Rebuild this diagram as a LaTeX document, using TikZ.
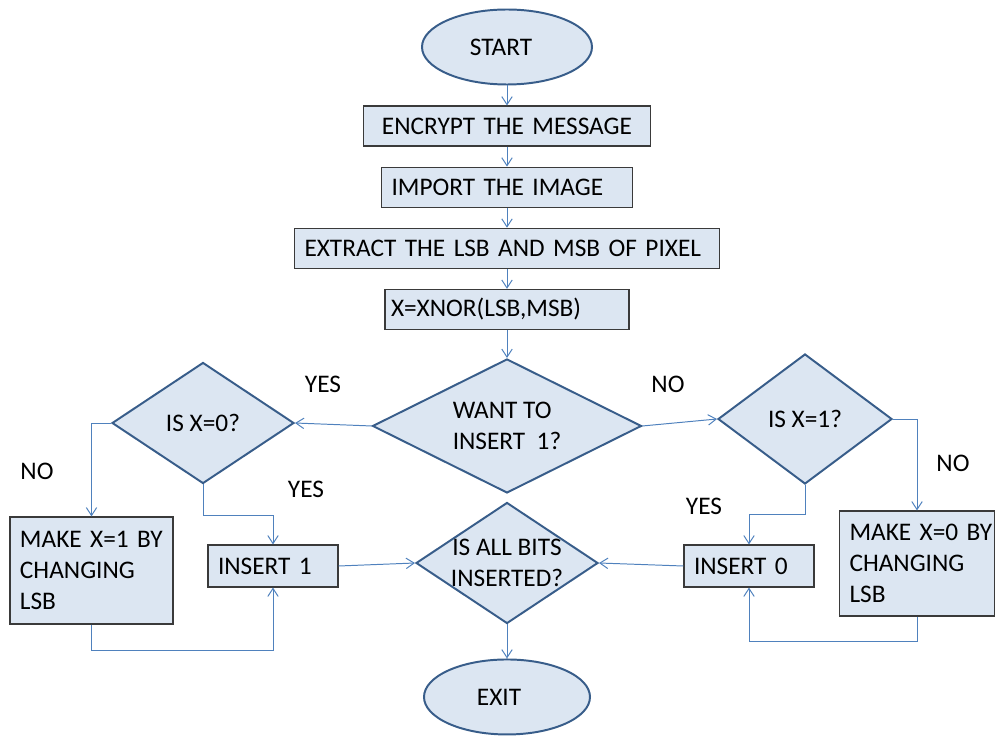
\documentclass[tikz,border=0pt]{standalone}
\usepackage{fontspec}
\setmainfont{Carlito}
\usepackage{tikz}
\usetikzlibrary{positioning,shapes.geometric,arrows.meta}
\definecolor{shapefill}{HTML}{DCE6F2}
\definecolor{shapeline}{HTML}{385D8A}
\definecolor{boxline}{HTML}{3A3A3A}
\definecolor{flowblue}{HTML}{4F81BD}
\tikzstyle{term}   = [ellipse, draw=shapeline, line width=1.4pt, fill=shapefill,
                      minimum width=42.5mm, minimum height=18.75mm]
\tikzstyle{proc}   = [rectangle, draw=boxline, line width=0.8pt, fill=shapefill,
                      align=left, inner xsep=2.5mm, minimum height=10mm]
\tikzstyle{decide} = [diamond, draw=shapeline, line width=1.4pt, fill=shapefill,
                      inner sep=0pt, align=center, aspect=1.5]
\tikzstyle{flow}   = [draw=flowblue, line width=0.7pt, -{Straight Barb[length=2mm,width=2.6mm]}]
\tikzstyle{answer} = [inner sep=0pt]

\begin{document}
\begin{tikzpicture}[x=0.25mm, y=-0.25mm, node distance=5mm,
			font=\fontsize{18}{22}\selectfont]
		\useasboundingbox (0,0) rectangle (995,736);
		% main column
		\node[term] (start) at (507,47) {START\hspace*{3mm}};
		\node[proc, below=of start, text width=66.75mm, align=center] (encrypt) {ENCRYPT THE MESSAGE};
		\node[proc, below=of encrypt, text width=57.75mm] (import) {IMPORT THE IMAGE};
		\node[proc, below=of import, text width=101.25mm] (extract) {EXTRACT THE LSB AND MSB OF PIXEL};
		\node[proc, below=of extract, text width=58mm, inner xsep=1.5mm] (xnor) {X=XNOR(LSB,MSB)};
		\node[decide, below=7mm of xnor, minimum width=67.25mm, minimum height=33.5mm,
			aspect=2, align=left] (want) {WANT TO\\INSERT\ \ 1?};

		% both branches
		\node[decide, minimum width=45.5mm, minimum height=30.25mm] (iszero) at (203,423) {IS X=0?};
		\node[decide, minimum width=43.5mm, minimum height=32.5mm] (isone) at (805,419) {IS X=1?};
		\node[proc, text width=35.75mm, minimum height=26.75mm] (makeone) at (91.5,570.5) {MAKE~X=1~BY\\CHANGING\\LSB};
		\node[proc, text width=27.5mm, minimum height=10.5mm] (insone) at (273,566) {INSERT 1};
		\node[decide, minimum width=45.5mm, minimum height=30.25mm, inner sep=-8pt] (allbits) at (507,563) {IS ALL BITS\\INSERTED?};
		\node[proc, text width=27.5mm, minimum height=10.5mm] (inszero) at (749,566) {INSERT 0};
		\node[proc, text width=33.75mm, minimum height=26.25mm] (makezero) at (917,563.5) {MAKE~X=0~BY\\CHANGING\\LSB};
		\node[term, below=8.5mm of allbits, minimum width=41.5mm] (exit) {EXIT\hspace*{4mm}};

		% answers
		\node[answer] (yesone) at (323,384) {YES};
		\node[answer] (noone) at (668,384) {NO};
		\node[answer] (notwo) at (37,471) {NO};
		\node[answer] (yestwo) at (306,489) {YES};
		\node[answer] (yesthree) at (704,506) {YES};
		\node[answer] (nothree) at (953,463) {NO};

		\draw[flow] (start) -- (encrypt);
		\draw[flow] (encrypt) -- (import);
		\draw[flow] (import) -- (extract);
		\draw[flow] (extract) -- (xnor);
		\draw[flow] (xnor) -- (want);
		\draw[flow] (want.west) -- (iszero.east);
		\draw[flow] (want.east) -- (isone.west);
		\draw[flow] (iszero.west) -| (makeone.north);
		\draw[flow] (iszero.south) -- ++(0,31) -| (insone.north);
		\draw[flow] (makeone.south) -- ++(0,26) -| (insone.south);
		\draw[flow] (insone.east) -- (allbits.west);
		\draw[flow] (isone.south) -- ++(0,30) -| (inszero.north);
		\draw[flow] (isone.east) -| (makezero.north);
		\draw[flow] (makezero.south) -- ++(0,25) -| (inszero.south);
		\draw[flow] (inszero.west) -- (allbits.east);
		\draw[flow] (allbits) -- (exit);
	\end{tikzpicture}
\end{document}
